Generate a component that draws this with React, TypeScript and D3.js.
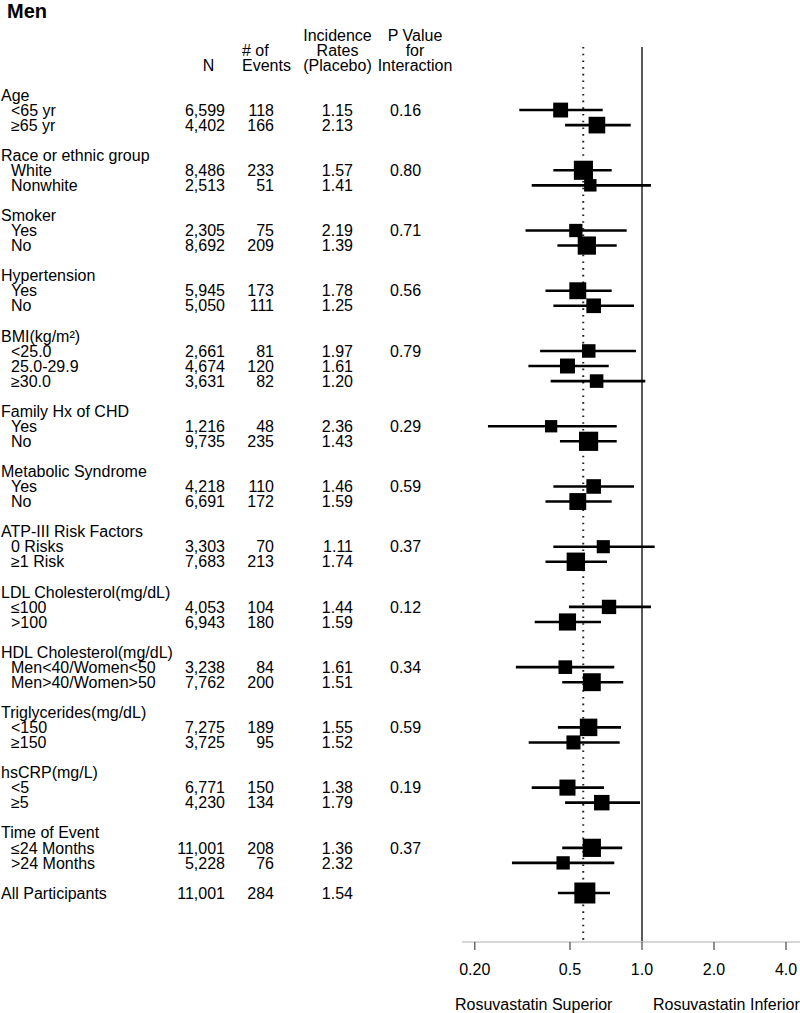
import React from "react";
import * as d3 from "d3";

// ---------- data ----------
const titleText = "Men";
const headerLines = [
  { text: "Incidence", col: "rate", line: 0 },
  { text: "Rates", col: "rate", line: 1 },
  { text: "(Placebo)", col: "rate", line: 2 },
  { text: "P Value", col: "p", line: 0 },
  { text: "for", col: "p", line: 1 },
  { text: "Interaction", col: "p", line: 2 },
  { text: "# of", col: "events", line: 1 },
  { text: "Events", col: "events", line: 2 },
  { text: "N", col: "n", line: 2 },
];

const groupLabels = [
  "Age",
  "Race or ethnic group",
  "Smoker",
  "Hypertension",
  "BMI(kg/m²)",
  "Family Hx of CHD",
  "Metabolic Syndrome",
  "ATP-III Risk Factors",
  "LDL Cholesterol(mg/dL)",
  "HDL Cholesterol(mg/dL)",
  "Triglycerides(mg/dL)",
  "hsCRP(mg/L)",
  "Time of Event",
];
const groupPValues = ["0.16", "0.80", "0.71", "0.56", "0.79", "0.29", "0.59", "0.37", "0.12", "0.34", "0.59", "0.19", "0.37"];
const groupSizes = [2, 2, 2, 2, 3, 2, 2, 2, 2, 2, 2, 2, 2];

const subgroupLabels = [
  "<65 yr", "≥65 yr",
  "White", "Nonwhite",
  "Yes", "No",
  "Yes", "No",
  "<25.0", "25.0-29.9", "≥30.0",
  "Yes", "No",
  "Yes", "No",
  "0 Risks", "≥1 Risk",
  "≤100", ">100",
  "Men<40/Women<50", "Men>40/Women>50",
  "<150", "≥150",
  "<5", "≥5",
  "≤24 Months", ">24 Months",
];
const nValues = [6599, 4402, 8486, 2513, 2305, 8692, 5945, 5050, 2661, 4674, 3631, 1216, 9735, 4218, 6691, 3303, 7683, 4053, 6943, 3238, 7762, 7275, 3725, 6771, 4230, 11001, 5228];
const eventCounts = [118, 166, 233, 51, 75, 209, 173, 111, 81, 120, 82, 48, 235, 110, 172, 70, 213, 104, 180, 84, 200, 189, 95, 150, 134, 208, 76];
const incidenceRates = [1.15, 2.13, 1.57, 1.41, 2.19, 1.39, 1.78, 1.25, 1.97, 1.61, 1.20, 2.36, 1.43, 1.46, 1.59, 1.11, 1.74, 1.44, 1.59, 1.61, 1.51, 1.55, 1.52, 1.38, 1.79, 1.36, 2.32];
const hrPoint = [0.457, 0.648, 0.569, 0.608, 0.529, 0.588, 0.539, 0.628, 0.599, 0.488, 0.646, 0.417, 0.598, 0.628, 0.539, 0.689, 0.529, 0.728, 0.488, 0.478, 0.617, 0.598, 0.517, 0.488, 0.679, 0.617, 0.468];
const hrLower = [0.307, 0.477, 0.426, 0.346, 0.326, 0.443, 0.395, 0.426, 0.375, 0.335, 0.415, 0.227, 0.454, 0.426, 0.395, 0.426, 0.395, 0.495, 0.356, 0.297, 0.464, 0.445, 0.336, 0.346, 0.477, 0.464, 0.286];
const hrUpper = [0.685, 0.897, 0.747, 1.09, 0.863, 0.784, 0.747, 0.926, 0.944, 0.726, 1.032, 0.784, 0.784, 0.926, 0.747, 1.13, 0.714, 1.09, 0.674, 0.766, 0.835, 0.817, 0.807, 0.694, 0.981, 0.827, 0.766];

const overallLabel = "All Participants";
const overallN = 11001;
const overallEvents = 284;
const overallRate = 1.54;
const overallHR = [0.577, 0.445, 0.735]; // point, lower, upper
const dottedRefHR = 0.568;
const nullHR = 1.0;

const tickValues = [0.2, 0.5, 1.0, 2.0, 4.0];
const tickLabels = ["0.20", "0.5", "1.0", "2.0", "4.0"];
const axisExtent = [0.177, 4.6];
const directionLabels = ["Rosuvastatin Superior", "Rosuvastatin Inferior"];

// ---------- layout ----------
const W = 800;
const H = 1013;
const FONT = "'Liberation Sans', Arial, Helvetica, sans-serif";
const FS = 16;
const colX = { n: 225, events: 274, rate: 353, p: 390 };
const headerPos: Record<string, { x: number; anchor: string }> = {
  n: { x: 208.5, anchor: "middle" },
  events: { x: 242, anchor: "start" },
  rate: { x: 337.5, anchor: "middle" },
  p: { x: 415, anchor: "middle" },
};

export default function App() {
  const x = d3.scaleLog().base(2).domain([0.2, 4]).range([474.8, 786]);
  const y = d3.scaleLinear().domain([0, 53]).range([95, 893]);
  const headerY = d3.scaleLinear().domain([0, 2]).range([35, 65]);
  const size = d3.scaleLinear().domain([48, 284]).range([12.3, 21]);
  const fmtN = d3.format(",");
  const fmtR = d3.format(".2f");
  const base = 5.7; // baseline offset from visual centre

  // build rows
  type Row = { idx: number; kind: "header" | "sub" | "all"; label: string; n?: number; ev?: number; rate?: number; p?: string; hr?: number[] };
  const rows: Row[] = [];
  let idx = 0;
  let s = 0;
  groupLabels.forEach((g, gi) => {
    rows.push({ idx, kind: "header", label: g });
    for (let k = 0; k < groupSizes[gi]; k++) {
      rows.push({
        idx: idx + 1 + k,
        kind: "sub",
        label: subgroupLabels[s],
        n: nValues[s],
        ev: eventCounts[s],
        rate: incidenceRates[s],
        p: k === 0 ? groupPValues[gi] : undefined,
        hr: [hrPoint[s], hrLower[s], hrUpper[s]],
      });
      s++;
    }
    idx += groupSizes[gi] + 2;
  });
  rows.push({ idx, kind: "all", label: overallLabel, n: overallN, ev: overallEvents, rate: overallRate, hr: overallHR });

  const axisY = 942;
  const lineTop = 47;

  return (
    <svg width={W} height={H} style={{ position: "absolute", left: 0, top: 0, background: "#fff" }} fontFamily={FONT} fontSize={FS}>
      <rect x={0} y={0} width={W} height={H} fill="#fff" />
      <text x={7} y={17.5} fontSize={20} fontWeight="bold" fill="#000">{titleText}</text>

      {headerLines.map((h, i) => (
        <text key={i} x={headerPos[h.col].x} y={headerY(h.line) + base} textAnchor={headerPos[h.col].anchor as any} fill="#000">
          {h.text}
        </text>
      ))}

      {/* reference lines */}
      <line x1={x(nullHR)} x2={x(nullHR)} y1={lineTop} y2={axisY} stroke="#5a5a5a" strokeWidth={2} />
      <line x1={x(dottedRefHR)} x2={x(dottedRefHR)} y1={lineTop} y2={axisY} stroke="#222" strokeWidth={2} strokeDasharray="1.6,5.1" />

      {rows.map((r, i) => {
        const cy = y(r.idx);
        const tx = r.kind === "sub" ? 11 : 1;
        return (
          <g key={i}>
            <text x={tx} y={cy + base} fill="#000">{r.label}</text>
            {r.n !== undefined && (
              <>
                <text x={colX.n} y={cy + base} textAnchor="end" fill="#000">{fmtN(r.n)}</text>
                <text x={colX.events} y={cy + base} textAnchor="end" fill="#000">{r.ev}</text>
                <text x={colX.rate} y={cy + base} textAnchor="end" fill="#000">{fmtR(r.rate!)}</text>
              </>
            )}
            {r.p && <text x={colX.p} y={cy + base} fill="#000">{r.p}</text>}
            {r.hr && (
              <>
                <line x1={x(r.hr[1])} x2={x(r.hr[2])} y1={cy} y2={cy} stroke="#000" strokeWidth={2.6} />
                <rect
                  x={x(r.hr[0]) - size(r.ev!) / 2}
                  y={cy - size(r.ev!) / 2}
                  width={size(r.ev!)}
                  height={size(r.ev!)}
                  fill="#000"
                />
              </>
            )}
          </g>
        );
      })}

      {/* axis */}
      <line x1={x(axisExtent[0])} x2={x(axisExtent[1])} y1={axisY} y2={axisY} stroke="#c8c8c8" strokeWidth={1.5} />
      {tickValues.map((t, i) => (
        <g key={i}>
          <line x1={x(t)} x2={x(t)} y1={axisY} y2={axisY + 8} stroke="#555" strokeWidth={1.3} />
          <text x={x(t)} y={975} textAnchor="middle" fill="#000">{tickLabels[i]}</text>
        </g>
      ))}
      <text x={455} y={1010} fill="#000">{directionLabels[0]}</text>
      <text x={653} y={1010} fill="#000">{directionLabels[1]}</text>
    </svg>
  );
}
